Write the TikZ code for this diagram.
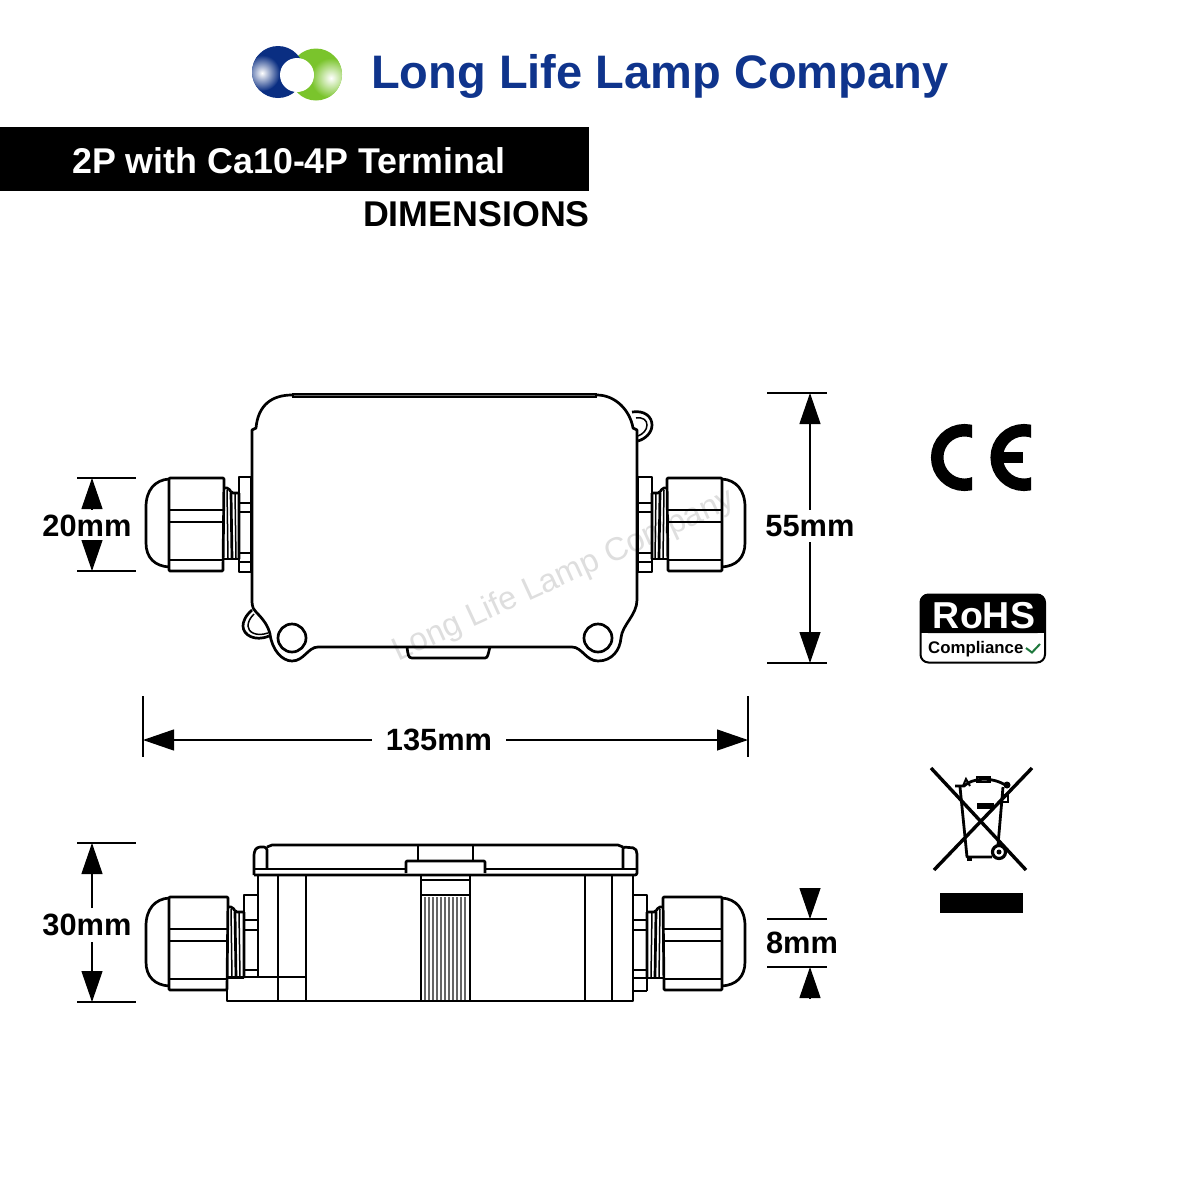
\documentclass[tikz,border=0pt]{standalone}
\usepackage{fontspec}
\setmainfont{Liberation Sans}
\usetikzlibrary{arrows.meta}
\definecolor{lampblue}{RGB}{15,52,140}
\definecolor{logoblue}{RGB}{10,46,130}
\definecolor{logogreen}{RGB}{122,196,44}
\definecolor{checkgreen}{RGB}{30,120,60}
\newcommand{\fs}[1]{\fontsize{#1}{#1}\selectfont}
\newcommand{\glandbody}[1]{%
  \draw[part] (169,479) .. controls (155,480) and (146,490) .. (146,507) -- (146,543) .. controls (146,558) and (155,566) .. (169,567);
  \draw[part,rounded corners=1] (169,478) -- (#1,478) -- (#1-1,571) -- (169,571) -- cycle;
  \draw[part] (169,510) -- (#1-1,510) (169,522) -- (#1-1,522) (169,560) -- (#1-1,560);
}
\newcommand{\glandthread}[2]{% x start, x end
  \draw[part,rounded corners=2] (#1,488) -- (#1+5,488) -- (#1+7,493) -- (#2,493);
  \draw[part,rounded corners=2] (#1,559) -- (#2,559);
  \draw[part] (#1+7,493) -- (#1+8,558) (#2,493) -- (#2,559);
  \draw[thinpart] (#1+3,490) -- (#1+4,558) (#1+11,493) -- (#1+12,558);
}
\tikzset{
  part/.style={line width=2.7pt,line join=round,black},
  thinpart/.style={line width=1.5pt,black},
  dimline/.style={line width=1.1pt,black},
  dimarrow/.style={line width=1.2pt,black,-{Triangle[length=31pt,width=21pt]}},
  dimtext/.style={font=\bfseries\fs{30.8},text height=20pt,text depth=0pt,inner xsep=14pt,inner ysep=6pt},
  ce/.style={line width=12.5pt,black},
}
\begin{document}
\begin{tikzpicture}[x=1pt,y=-1pt]
\useasboundingbox (0,0) rectangle (1200,1200);
\fill[white] (0,0) rectangle (1200,1200);
% logo
\fill[logogreen] (316,74.5) circle (26);
\begin{scope}\clip (316,74.5) circle (26);
\shade[inner color=white,outer color=logogreen] (331,78) circle (20);
\end{scope}
\fill[logoblue] (278,72) circle (26);
\begin{scope}\clip (278,72) circle (26);
\shade[inner color=white,outer color=logoblue] (262,73) circle (18);
\end{scope}
\begin{scope}\clip (278,72) circle (26); \clip (240,75) rectangle (360,110);
\fill[logogreen] (316,74.5) circle (26);
\end{scope}
\fill[white] (297,75) circle (17);
% headings
\node[anchor=base west,inner sep=0,text=lampblue,font=\bfseries\fs{47}] (title) at (371,88) {Long Life Lamp Company};
\fill[black] (0,127) rectangle (589,191);
\node[anchor=base west,inner sep=0,text=white,font=\bfseries\fs{35.8}] (model) at (72,173) {2P with Ca10-4P Terminal};
\node[anchor=base east,inner sep=0,font=\bfseries\fs{35.8}] (dims) at (590,226) {DIMENSIONS};
% watermark
\node[rotate=24.6,text=black!13,font=\fs{32.5},inner sep=0] (wm) at (564,576) {Long Life Lamp Company};
% top view
\draw[part] (252,430) -- (252,600) .. controls (252,608) and (254,610) .. (256,612) .. controls (264,620) and (268,626) .. (270,634) .. controls (272,650) and (282,661) .. (292,661) .. controls (304,661) and (308,647) .. (318,647) -- (572,647) .. controls (582,647) and (586,661) .. (598,661) .. controls (612,661) and (620,650) .. (621,638) .. controls (622,625) and (637,615) .. (637,600) -- (637,430) -- (633,428) .. controls (630,410) and (615,395) .. (597,395) -- (292,395) .. controls (272,395) and (258,405) .. (256,428) -- cycle;
\draw[line width=5.5pt,black] (292,395.5) -- (597,395.5);
\draw[line width=.5pt,black!60] (294,395.5) -- (595,395.5);
\draw[part] (490,647) .. controls (488,654) and (488,658) .. (485,658) -- (412,658) .. controls (408,658) and (408,654) .. (407,647);
\draw[part] (292,638) circle (14) (598,638) circle (14);
\draw[part] (632,412) .. controls (645,410) and (652,417) .. (652,425) .. controls (652,433) and (645,439) .. (638,441);
\draw[thinpart] (636,418) .. controls (643,417) and (647,420) .. (647,425) .. controls (647,430) and (643,434) .. (638,436);
\draw[part] (252,610) .. controls (245,616) and (243,622) .. (243,626) .. controls (243,635) and (255,642) .. (269,636);
\draw[thinpart] (254,614) .. controls (250,618) and (248,622) .. (248,626) .. controls (248,632) and (256,637) .. (268,633);
\glandbody{224}
\glandthread{224}{239}
\draw[part] (239,477) rectangle (251,572);
\draw[part] (239,503) -- (251,503) (239,512) -- (251,512) (239,553) -- (251,553) (239,562) -- (251,562);
\begin{scope}[shift={(891,0)},xscale=-1]
\glandbody{224}
\glandthread{224}{239}
\draw[part] (239,477) rectangle (253,572);
\draw[part] (239,503) -- (253,503) (239,512) -- (253,512) (239,553) -- (253,553) (239,562) -- (253,562);
\end{scope}
% bottom view
\begin{scope}[shift={(0,419)}]
\glandbody{228}
\glandthread{228}{244}
\end{scope}
\begin{scope}[shift={(891,419)},xscale=-1]
\glandbody{228}
\glandthread{228}{244}
\end{scope}
\draw[part] (244,976) -- (244,895) -- (258,895);
\draw[part] (244,920) -- (258,920) (244,930) -- (258,930) (244,970) -- (258,970);
\draw[part] (647,991) -- (633,991) (647,991) -- (647,895) -- (633,895);
\draw[part] (633,920) -- (647,920) (633,930) -- (647,930) (633,970) -- (647,970) (633,978) -- (647,978);
\draw[part] (258,875) -- (258,977) (227,977) -- (305,977) (227,977) -- (227,1001) -- (633,1001) -- (633,875);
\draw[part] (278,875) -- (278,1001) (306,875) -- (306,1001) (585,875) -- (585,1001) (612,875) -- (612,1001);
\draw[part,rounded corners=2] (254,875) -- (637,875) -- (637,852) -- (635,848) -- (623,847) -- (623,869);
\draw[part,rounded corners=3] (254,875) -- (254,852) -- (257,847) -- (267,847) -- (267,869);
\draw[part] (254,869) -- (406,869) (485,869) -- (637,869);
\draw[part] (267,847) -- (272,845) -- (618,845) -- (623,847);
\draw[part] (418,845) -- (418,861) (473,845) -- (473,861);
\draw[part,fill=white,rounded corners=1] (406,873) -- (406,861) -- (485,861) -- (485,873);
\draw[part] (421,875) -- (421,1001) (470,875) -- (470,1001) (421,895) -- (470,895) (421,880) -- (470,880);
\foreach \rx in {425,429,433,437,441,445,449,453,457,461,465}
  \draw[line width=1.5pt,black!60] (\rx,897) -- (\rx,1000);
% dimensions: 20mm
\coordinate (a20t1) at (77,478); \coordinate (a20t2) at (136,478);
\coordinate (a20b1) at (77,571); \coordinate (a20b2) at (136,571);
\coordinate (a20up) at (92,478); \coordinate (a20dn) at (92,571);
\coordinate (a20ub) at (92,509); \coordinate (a20db) at (92,540);
\node[dimtext,inner sep=0] (l20) at (87,526) {20mm};
\draw[dimline] (a20t1) -- (a20t2); \draw[dimline] (a20b1) -- (a20b2);
\draw[dimarrow] (a20ub) -- (a20up); \draw[dimarrow] (a20db) -- (a20dn);
% 55mm
\coordinate (a55t1) at (767,393); \coordinate (a55t2) at (827,393);
\coordinate (a55b1) at (767,663); \coordinate (a55b2) at (827,663);
\coordinate (a55up) at (810,393); \coordinate (a55dn) at (810,663);
\node[dimtext] (l55) at (810,526) {55mm};
\draw[dimline] (a55t1) -- (a55t2); \draw[dimline] (a55b1) -- (a55b2);
\draw[dimarrow] (l55) -- (a55up); \draw[dimarrow] (l55) -- (a55dn);
% 135mm
\coordinate (a135l1) at (143,696); \coordinate (a135l2) at (143,757);
\coordinate (a135r1) at (748,696); \coordinate (a135r2) at (748,757);
\coordinate (a135l) at (143,740); \coordinate (a135r) at (748,740);
\node[dimtext] (l135) at (439,740) {135mm};
\draw[dimline] (a135l1) -- (a135l2); \draw[dimline] (a135r1) -- (a135r2);
\draw[dimarrow] (l135) -- (a135l); \draw[dimarrow] (l135) -- (a135r);
% 30mm
\coordinate (a30t1) at (77,843); \coordinate (a30t2) at (136,843);
\coordinate (a30b1) at (77,1002); \coordinate (a30b2) at (136,1002);
\coordinate (a30up) at (92,843); \coordinate (a30dn) at (92,1002);
\coordinate (a30ub) at (92,908); \coordinate (a30db) at (92,942);
\node[dimtext,inner sep=0] (l30) at (87,925) {30mm};
\draw[dimline] (a30t1) -- (a30t2); \draw[dimline] (a30b1) -- (a30b2);
\draw[dimarrow] (a30ub) -- (a30up); \draw[dimarrow] (a30db) -- (a30dn);
% 8mm
\coordinate (a8t1) at (767,919); \coordinate (a8t2) at (827,919);
\coordinate (a8b1) at (767,967); \coordinate (a8b2) at (827,967);
\coordinate (a8up) at (810,888); \coordinate (a8uptip) at (810,919);
\coordinate (a8dn) at (810,998); \coordinate (a8dntip) at (810,967);
\node[dimtext,inner sep=0] (l8) at (802,943) {8mm};
\draw[dimline] (a8t1) -- (a8t2); \draw[dimline] (a8b1) -- (a8b2);
\draw[dimarrow] (a8up) -- (a8uptip); \draw[dimarrow] (a8dn) -- (a8dntip);
% CE
\begin{scope}\clip (925,415) rectangle (972,500);
\draw[ce] (964.5,457.5) circle (27.3);
\end{scope}
\begin{scope}\clip (985,415) rectangle (1031,500);
\draw[ce] (1024,457.5) circle (27.3);
\end{scope}
\fill[black] (1000,452) rectangle (1023,463);
% RoHS
\draw[line width=2pt,black,fill=white,rounded corners=8] (920.5,594.5) rectangle (1045,662.5);
\fill[black,rounded corners=8] (920,594) -- (1045.5,594) -- (1045.5,633) -- (920,633) -- cycle;
\fill[black] (920,620) rectangle (1045.5,633);
\node[anchor=base,inner sep=0,text=white,font=\bfseries\fs{37.5}] (rohs) at (984,628) {RoHS};
\node[anchor=base west,inner sep=0,font=\bfseries\fs{16.8}] (comp) at (928,653) {Compliance};
\draw[line width=2pt,checkgreen] (1026,648) -- (1032,652.5) -- (1040,644);
% WEEE
\draw[line width=3.4pt,black] (931,768) -- (1026,870) (1032,768) -- (934,870);
\draw[line width=2.8pt,black,line join=round] (960,787) -- (967,857) -- (992,857);
\draw[line width=2.8pt,black] (1003,787) -- (998,845);
\draw[line width=2.8pt,black] (955,786) -- (964,786) .. controls (972,778) and (992,776) .. (1007,786);
\draw[line width=2pt,black] (963,786) -- (966,779) -- (970,786);
\draw[line width=2pt,black] (977,777) rectangle (990,782);
\fill[black] (1007,785) circle (3.5);
\draw[line width=1.8pt,black] (1002,795) -- (1008,795) -- (1008,802) -- (1002,802);
\fill[black] (977,803) rectangle (994,809);
\fill[black] (967,856) rectangle (972,861);
\draw[line width=3.2pt,black,fill=white] (999,852) circle (6.5);
\fill[black] (999,852) circle (2.5);
\fill[black] (940,893) rectangle (1023,913);
\end{tikzpicture}
\end{document}
